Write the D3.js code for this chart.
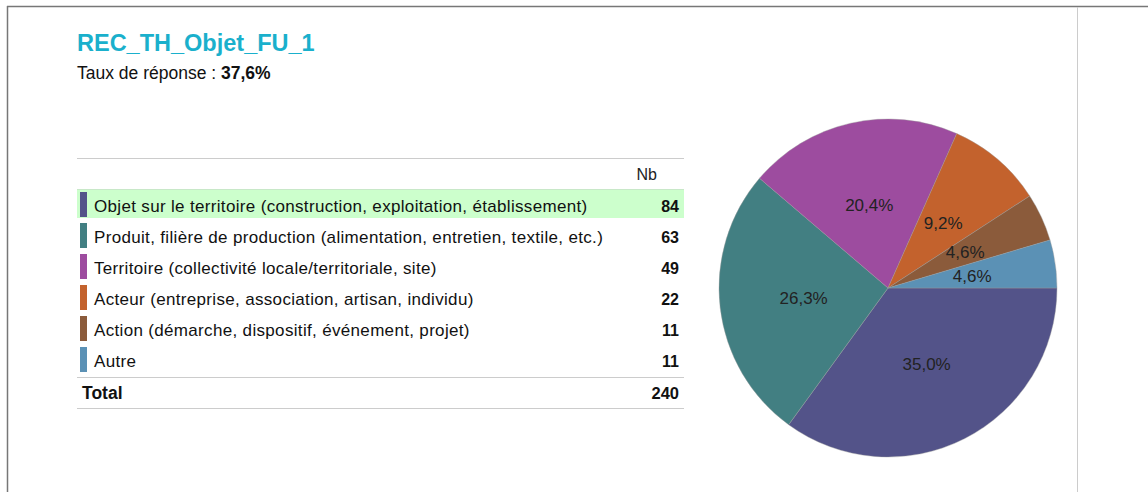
<!DOCTYPE html>
<html>
<head>
<meta charset="utf-8">
<script src="https://cdn.jsdelivr.net/npm/d3@7"></script>
<style>
  body { margin: 0; background: #fff; }
  svg { font-family: "Liberation Sans", Arial, sans-serif; display: block; }
</style>
</head>
<body>
<svg id="chart"></svg>
<script>
// data
var categories = [
  "Objet sur le territoire (construction, exploitation, établissement)",
  "Produit, filière de production (alimentation, entretien, textile, etc.)",
  "Territoire (collectivité locale/territoriale, site)",
  "Acteur (entreprise, association, artisan, individu)",
  "Action (démarche, dispositif, événement, projet)",
  "Autre"
];
var counts = [84, 63, 49, 22, 11, 11];
var colors = ["#535389", "#427f82", "#9d4c9f", "#c3622d", "#8b5b3b", "#5b91b5"];
var title = "REC_TH_Objet_FU_1";
var tauxReponse = "37,6%";

var width = 1148, height = 492;
var svg = d3.select("#chart").attr("width", width).attr("height", height);

// frame lines
svg.append("line").attr("x1", 7).attr("x2", width).attr("y1", 6.5).attr("y2", 6.5)
  .attr("stroke", "#777").attr("stroke-width", 1.5);
svg.append("line").attr("x1", 7.5).attr("x2", 7.5).attr("y1", 6).attr("y2", height)
  .attr("stroke", "#777").attr("stroke-width", 1.5);
svg.append("line").attr("x1", 1077.5).attr("x2", 1077.5).attr("y1", 7).attr("y2", height)
  .attr("stroke", "#ccc").attr("stroke-width", 1);

// title
svg.append("text").attr("x", 77).attr("y", 51)
  .attr("fill", "#1ab0cc").attr("font-size", 23.5).attr("font-weight", "bold")
  .text(title);
var sub = svg.append("text").attr("x", 77).attr("y", 79).attr("font-size", 17.5).attr("fill", "#111");
sub.append("tspan").text("Taux de réponse : ");
sub.append("tspan").attr("font-weight", "bold").text(tauxReponse);

// table
var tLeft = 77, tRight = 684;
var total = d3.sum(counts);
var y = d3.scaleBand().domain(d3.range(categories.length)).range([190, 376]);

svg.append("line").attr("x1", tLeft).attr("x2", tRight).attr("y1", 158.5).attr("y2", 158.5)
  .attr("stroke", "#ccc");
svg.append("text").attr("x", 657).attr("y", 180).attr("text-anchor", "end")
  .attr("font-size", 16).attr("fill", "#222").text("Nb");

svg.append("rect").attr("x", tLeft).attr("y", y(0)).attr("width", tRight - tLeft)
  .attr("height", y.bandwidth() - 3).attr("fill", "#ccffcc");
svg.append("line").attr("x1", tLeft).attr("x2", tRight).attr("y1", 189.5).attr("y2", 189.5)
  .attr("stroke", "#c8e8c8");

var rows = svg.selectAll("g.row").data(categories).enter().append("g").attr("class", "row")
  .attr("transform", function(d, i){ return "translate(0," + y(i) + ")"; });

rows.append("rect").attr("x", 80).attr("y", 2).attr("width", 7)
  .attr("height", y.bandwidth() - 6)
  .attr("fill", function(d, i){ return colors[i]; });
rows.append("text").attr("x", 94).attr("y", y.bandwidth() / 2 + 6)
  .attr("font-size", 17).attr("letter-spacing", 0.33).attr("fill", "#111")
  .text(function(d){ return d; });
rows.append("text").attr("x", 679).attr("y", y.bandwidth() / 2 + 6)
  .attr("text-anchor", "end").attr("font-size", 16).attr("font-weight", "bold").attr("fill", "#111")
  .text(function(d, i){ return counts[i]; });

svg.append("line").attr("x1", tLeft).attr("x2", tRight).attr("y1", 377.5).attr("y2", 377.5)
  .attr("stroke", "#ccc");
svg.append("text").attr("x", 82).attr("y", 399).attr("font-size", 17.5).attr("font-weight", "bold")
  .attr("fill", "#111").text("Total");
svg.append("text").attr("x", 679).attr("y", 399).attr("text-anchor", "end")
  .attr("font-size", 16.5).attr("font-weight", "bold").attr("fill", "#111").text(total);
svg.append("line").attr("x1", tLeft).attr("x2", tRight).attr("y1", 408.5).attr("y2", 408.5)
  .attr("stroke", "#ccc");

// pie
var cx = 888, cy = 288, r = 169;
var pie = d3.pie().sort(null).startAngle(Math.PI / 2).endAngle(Math.PI / 2 + 2 * Math.PI);
var arcs = pie(counts);
var arc = d3.arc().innerRadius(0).outerRadius(r);
var labelArc = d3.arc().innerRadius(85).outerRadius(85);
var fmt = function(v){ return (v / total * 100).toFixed(1).replace(".", ",") + "%"; };

var g = svg.append("g").attr("transform", "translate(" + cx + "," + cy + ")");
g.selectAll("path").data(arcs).enter().append("path")
  .attr("d", arc)
  .attr("fill", function(d, i){ return colors[i]; })
  .attr("stroke", "#999").attr("stroke-width", 0.4);
g.selectAll("text").data(arcs).enter().append("text")
  .attr("transform", function(d){ return "translate(" + labelArc.centroid(d) + ")"; })
  .attr("text-anchor", "middle").attr("dy", "0.35em")
  .attr("font-size", 17).attr("fill", "#222")
  .text(function(d){ return fmt(d.data); });
</script>
</body>
</html>
